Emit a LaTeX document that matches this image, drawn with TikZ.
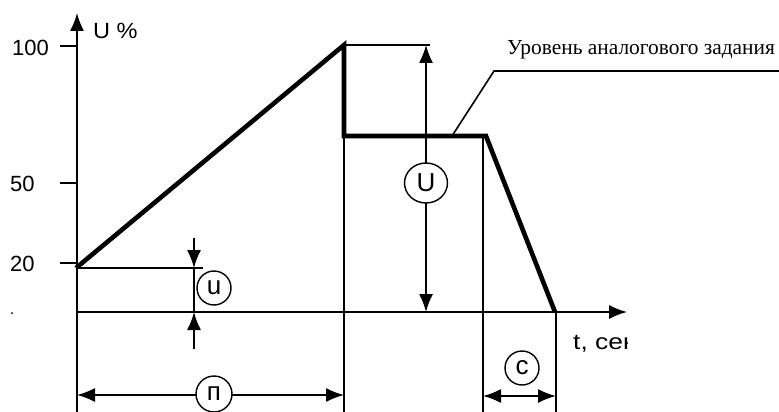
\documentclass[tikz,border=0pt]{standalone}
\usepackage{fontspec}
\setmainfont{Liberation Serif}
\setsansfont{Liberation Sans}
\usetikzlibrary{arrows.meta,calc,shapes.geometric}

\begin{document}
\begin{tikzpicture}[x=1pt,y=-1pt,>={Latex[length=18pt,width=14pt]}]
	\tikzstyle{dimline}=[line width=1.6pt]
	\tikzstyle{curve}=[line width=4.6pt,line join=miter]
	\tikzstyle{lbl}=[inner sep=0pt,font=\sffamily\fontsize{22}{26}\selectfont]
	\tikzstyle{tag}=[draw,circle,line width=1.4pt,inner sep=0pt,minimum size=34pt,fill=white,font=\sffamily\fontsize{26}{28}\selectfont]

	\useasboundingbox (0,0) rectangle (779,412);

	% axes
	\coordinate (O) at (77,312);
	\coordinate (Utip) at (77,13);
	\coordinate (ttip) at (627,312);
	\draw [dimline,->] (O) -- (Utip);
	\draw [dimline,->] (O) -- (ttip);
	\draw [dimline] (O) -- ($(O) + (0,100)$);

	\node (Uax) [lbl,anchor=west] at (93,31) {\addfontfeature{FakeStretch=1.07}U \%};

	% ticks
	\foreach \val/\y in {100/46, 50/183, 20/263} {
		\draw [dimline] (60,\y) -- (77,\y);
	}
	\node (l100) [lbl,anchor=west] at (12,48) {100};
	\node (l50) [lbl,anchor=west] at (10,184) {50};
	\node (l20) [lbl,anchor=west] at (10,264) {20};
	\fill (12,313) circle (1pt);

	% profile
	\coordinate (P0) at (76,268);
	\coordinate (P1) at (344,45);
	\coordinate (P2) at (344,136);
	\coordinate (P3) at (486,136);
	\coordinate (P4) at (555,312);
	\draw [curve] (P0) -- (P1) -- (P2) -- (P3) -- (P4);

	% helper lines
	\draw [dimline] (P0) -- ($(P0) + (127,0)$);
	\draw [dimline] (P1) -- ($(P1) + (86,0)$);
	\draw [dimline] (P2) -- (344,412);
	\draw [dimline] (483,136) -- (483,412);
	\draw [dimline] (556,312) -- (556,412);

	% u
	\coordinate (ua) at (194,238);
	\coordinate (ub) at (194,349);
	\draw [dimline,->] (ua) -- (194,268);
	\draw [dimline,->] (ub) -- (194,312);
	\draw [dimline] (194,268) -- (194,312);
	\node (u) [tag] at (214,288) {u};

	% U
	\coordinate (Ua) at (426,45);
	\coordinate (Ub) at (426,312);
	\draw [dimline,<->] (Ua) -- (Ub);
	\node (U) [tag,ellipse,minimum width=43pt,minimum height=40pt] at (426,183) {U};

	% n
	\coordinate (na) at (77,395);
	\coordinate (nb) at (344,395);
	\draw [dimline,<->] (na) -- (nb);
	\node (n) [tag,minimum size=36pt] at (214,394) {п};

	% c
	\coordinate (ca) at (483,396);
	\coordinate (cb) at (556,396);
	\draw [dimline,<->] (ca) -- (cb);
	\node (c) [tag] at (522,368) {с};

	% t label
	\begin{scope}
		\clip (560,320) rectangle (627,370);
		\node (tlab) [lbl,anchor=west] at (573,344) {\addfontfeature{FakeStretch=1.2}t, сек};
	\end{scope}

	% level label
	\coordinate (L0) at (452,136);
	\coordinate (L1) at (494,71);
	\coordinate (L2) at (779,71);
	\draw [dimline] (L0) -- (L1) -- (L2);
	\node (lev) [anchor=west,inner sep=0pt,font=\fontsize{21.4}{24}\selectfont] at (507,50) {Уровень аналогового задания};
\end{tikzpicture}
\end{document}
